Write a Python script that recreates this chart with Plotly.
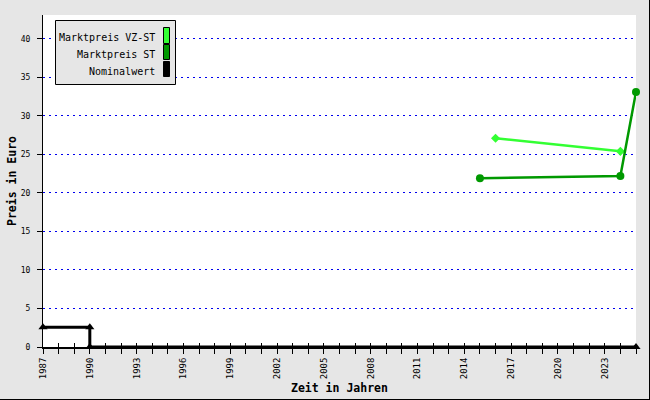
import plotly.graph_objects as go

# ---- data ----
vzst_x = [2016.0, 2024.0]
vzst_y = [27.1, 25.4]
st_x = [2015.0, 2024.0, 2025.0]
st_y = [21.9, 22.2, 33.1]
nom_x = [1987.0, 1990.0, 1990.0, 2025.0]
nom_y = [2.56, 2.56, 0.0, 0.0]

series_names = ["Marktpreis VZ-ST", "Marktpreis ST", "Nominalwert"]
series_colors = ["#33ff33", "#009900", "#000000"]

year_ticks = list(range(1987, 2026))
year_labels = [str(y) if (y - 1987) % 3 == 0 and y < 2025 else "" for y in year_ticks]
y_ticks = [0, 5, 10, 15, 20, 25, 30, 35, 40]

x_title = "Zeit in Jahren"
y_title = "Preis in Euro"

# ---- layout geometry (pixels) ----
W, H = 650, 400
PL, PR, PT, PB = 43, 636, 15, 347


def px(x):
    return (x - PL) / (PR - PL)


def py(y):
    return (PB - y) / (PB - PT)


MONO = "DejaVu Sans Mono"

fig = go.Figure()

fig.add_trace(go.Scatter(
    x=vzst_x, y=vzst_y, mode="lines+markers", name=series_names[0],
    line=dict(color=series_colors[0], width=2.5),
    marker=dict(symbol="diamond", size=7, color=series_colors[0]),
    cliponaxis=False, showlegend=False))
fig.add_trace(go.Scatter(
    x=st_x, y=st_y, mode="lines+markers", name=series_names[1],
    line=dict(color=series_colors[1], width=2.5),
    marker=dict(symbol="circle", size=8, color=series_colors[1]),
    cliponaxis=False, showlegend=False))
fig.add_trace(go.Scatter(
    x=nom_x, y=nom_y, mode="lines+markers", name=series_names[2],
    line=dict(color=series_colors[2], width=3),
    marker=dict(symbol="triangle-up", size=8, color=series_colors[2]),
    cliponaxis=False, showlegend=False))
# dummy trace to attach the overlay axis (inside tick halves)
fig.add_trace(go.Scatter(x=[None], y=[None], xaxis="x2", showlegend=False,
                         hoverinfo="skip"))

fig.update_layout(
    width=W, height=H,
    margin=dict(l=PL, r=W - PR, t=PT, b=H - PB, pad=0),
    paper_bgcolor="#e6e6e6",
    plot_bgcolor="#ffffff",
    font=dict(family=MONO, color="#000000"),
    showlegend=False,
    xaxis=dict(
        range=[1987, 2025], tickmode="array", tickvals=year_ticks,
        ticktext=year_labels, tickangle=-90,
        ticks="outside", ticklen=5, tickwidth=1, tickcolor="#000",
        tickfont=dict(family=MONO, size=9),
        showline=True, linecolor="#000", linewidth=2,
        showgrid=False, zeroline=False, automargin=False,
    ),
    xaxis2=dict(
        range=[1987, 2025], overlaying="x", anchor="y", side="bottom",
        tickmode="array", tickvals=year_ticks, ticktext=[""] * len(year_ticks),
        ticks="inside", ticklen=4, tickwidth=1, tickcolor="#000",
        showline=False, showgrid=False, zeroline=False, automargin=False,
    ),
    yaxis=dict(
        range=[0, 43.1], tickmode="array", tickvals=y_ticks,
        ticks="outside", ticklen=5, tickwidth=1, tickcolor="#000",
        tickfont=dict(family=MONO, size=8), ticklabelstandoff=5,
        showline=True, linecolor="#000", linewidth=1,
        showgrid=True, gridcolor="#0000ee", gridwidth=1, griddash="2px,4px",
        zeroline=False, automargin=False,
    ),
)

annotations = [
    dict(text=f"<b>{x_title}</b>", xref="paper", yref="paper",
         x=px(339), y=py(388), showarrow=False,
         font=dict(family=MONO, size=11.5), xanchor="center", yanchor="middle"),
    dict(text=f"<b>{y_title}</b>", xref="paper", yref="paper",
         x=px(12), y=py(181), showarrow=False, textangle=-90,
         font=dict(family=MONO, size=11.5), xanchor="center", yanchor="middle"),
]

shapes = [
    # outer border (right and bottom)
    dict(type="line", xref="paper", yref="paper", x0=px(649.5), x1=px(649.5),
         y0=py(0), y1=py(400), line=dict(color="#000", width=1)),
    dict(type="line", xref="paper", yref="paper", x0=px(0), x1=px(650),
         y0=py(399.5), y1=py(399.5), line=dict(color="#000", width=1)),
    # legend box
    dict(type="rect", xref="paper", yref="paper", x0=px(55.5), x1=px(175.5),
         y0=py(20.5), y1=py(84.5), fillcolor="#e6e6e6",
         line=dict(color="#000", width=1)),
]

row_text_y = [37, 54, 71]
row_box = [(27.5, 43.5), (44.5, 59.5), (61.5, 76.5)]
for name, color, ty, (b0, b1) in zip(series_names, series_colors, row_text_y, row_box):
    annotations.append(dict(text=name, xref="paper", yref="paper",
                            x=px(157), y=py(ty), showarrow=False,
                            xanchor="right", yanchor="middle",
                            font=dict(family=MONO, size=10)))
    shapes.append(dict(type="rect", xref="paper", yref="paper",
                       x0=px(163.5), x1=px(169.5), y0=py(b0), y1=py(b1),
                       fillcolor=color, line=dict(color="#000", width=1)))

fig.update_layout(annotations=annotations, shapes=shapes)

fig.write_html(
    "out.html",
    config={"displayModeBar": False},
    post_script="document.body.style.margin='0';document.body.style.overflow='hidden';",
)
